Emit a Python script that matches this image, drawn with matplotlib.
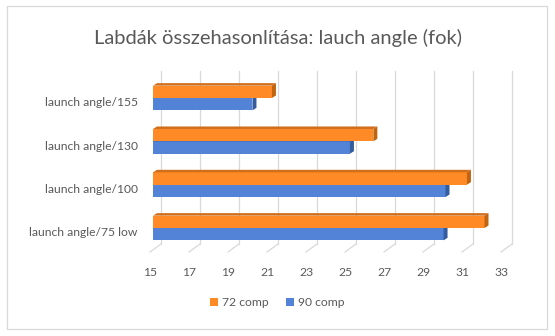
import numpy as np
import matplotlib
matplotlib.use("Agg")
import matplotlib.pyplot as plt
import matplotlib.transforms as mtransforms
from matplotlib.patches import Polygon, Rectangle

# data
categories = ["launch angle/75 low", "launch angle/100", "launch angle/130", "launch angle/155"]
comp72 = [32.0, 31.1, 26.3, 21.1]
comp90 = [29.9, 30.0, 25.1, 20.1]
series_names = ["72 comp", "90 comp"]
xticks = np.arange(15, 34, 2)

plt.rcParams['font.family'] = ['Lato', 'DejaVu Sans']
txt = '#595959'
grid_c = '#D9D9D9'
orange, orange_top, orange_side = '#FF8A26', '#D06E1C', '#C0640F'
blue, blue_side = '#5283D6', '#355C9E'
fs = 8.7

fig = plt.figure(figsize=(5.55, 3.36), dpi=100)
ax = fig.add_axes([153/555, 84/336, 351/555, 181/336])
ax.set_xlim(15, 33)
ax.set_ylim(-0.554, 3.623)
for s in ax.spines.values():
    s.set_visible(False)

# pixel -> data helpers
px_x = 18 / 351
px_y = (3.623 + 0.554) / 181
back_dx = 8 * px_x
back_dy = 8 * px_y
front_dx = -3 * px_x

# back wall gridlines + floor
for t in xticks:
    ax.plot([t + back_dx, t + back_dx], [-0.554 + back_dy, 3.623], color=grid_c, lw=0.9, zorder=0, clip_on=False)
    ax.plot([t + front_dx, t + back_dx], [-0.554, -0.554 + back_dy], color=grid_c, lw=0.9, zorder=0, clip_on=False)

h = 0.285
dx, dy = 4 * px_x, 2.5 * px_y
y = np.arange(len(categories))

def bar3d(y0, val, front, top, side):
    x0 = 15
    ax.add_patch(Rectangle((x0, y0), val - x0, h, facecolor=front, edgecolor='none', zorder=2, clip_on=False))
    ax.add_patch(Polygon([(x0, y0 + h), (val, y0 + h), (val + dx, y0 + h + dy), (x0 + dx, y0 + h + dy)],
                         facecolor=top, edgecolor='none', zorder=2, clip_on=False))
    ax.add_patch(Polygon([(val, y0), (val, y0 + h), (val + dx, y0 + h + dy), (val + dx, y0 + dy)],
                         facecolor=side, edgecolor='none', zorder=2, clip_on=False))

for i in range(len(categories)):
    bar3d(y[i] - h, comp90[i], blue, blue_side, blue_side)
    bar3d(y[i], comp72[i], orange, orange_top, orange_side)

ax.set_xticks(xticks)
ax.set_xticklabels([str(t) for t in xticks], color=txt, fontsize=fs)
ax.tick_params(axis='x', length=0, pad=11)
off = mtransforms.ScaledTranslation(-3 / 100, 0, fig.dpi_scale_trans)
for lab in ax.get_xticklabels():
    lab.set_transform(lab.get_transform() + off)

ax.set_yticks(y)
ax.set_yticklabels(categories, color=txt, fontsize=fs)
ax.tick_params(axis='y', length=0, pad=11)
offy = mtransforms.ScaledTranslation(0, -4 / 100, fig.dpi_scale_trans)
for lab in ax.get_yticklabels():
    lab.set_transform(lab.get_transform() + offy)

fig.text(0.5, 1 - 38 / 336, "Labdák összehasonlítása: lauch angle (fok)", ha='center', va='center',
         color=txt, fontsize=14.5)

# legend
handles = [Rectangle((0, 0), 1, 1, facecolor=orange), Rectangle((0, 0), 1, 1, facecolor=blue)]
fig.legend(handles, series_names, loc='center', bbox_to_anchor=(0.5, 1 - 303 / 336), ncol=2, frameon=False,
           fontsize=fs, labelcolor=txt, handlelength=0.65, handleheight=0.65, handletextpad=0.35, columnspacing=1.4)

# chart border
fig.add_artist(Rectangle((7 / 555, 1 - 329 / 336), 540 / 555, 323 / 336, transform=fig.transFigure,
                         facecolor='none', edgecolor=grid_c, lw=0.9))

fig.savefig("out.png", dpi=100)
